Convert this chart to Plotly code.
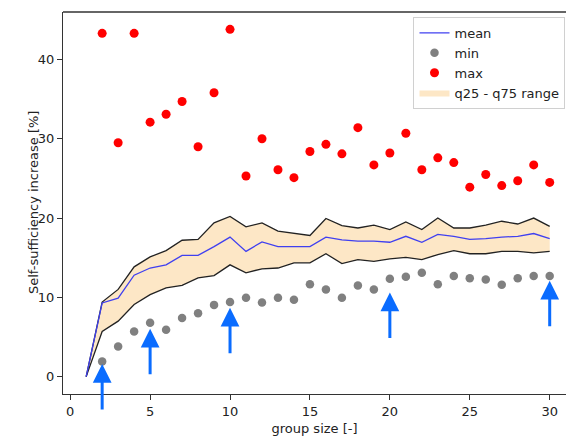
import plotly.graph_objects as go

group_size = list(range(1, 31))
mean_vals = [0, 9.3, 9.9, 12.8, 13.7, 14.1, 15.3, 15.3, 16.4, 17.6, 15.8, 17.0, 16.4, 16.4, 16.4,
             17.6, 17.25, 17.1, 17.1, 16.95, 17.7, 16.95, 17.95, 17.7, 17.3, 17.4, 17.6, 17.7, 18.05, 17.4]
q75_vals = [0, 9.4, 11.0, 13.85, 15.1, 15.9, 17.2, 17.3, 19.4, 20.2, 18.9, 19.4, 18.35, 18.1, 17.8,
            19.95, 19.05, 18.75, 19.1, 18.55, 19.5, 18.55, 20.0, 18.75, 18.75, 19.1, 19.6, 19.25, 20.0, 18.95]
q25_vals = [0, 5.7, 7.0, 9.1, 10.35, 11.2, 11.5, 12.45, 12.75, 14.1, 13.1, 13.6, 13.7, 14.35, 14.35,
            15.5, 14.25, 14.75, 14.55, 14.85, 15.05, 14.75, 15.4, 15.9, 15.5, 15.5, 15.8, 15.8, 15.6, 15.8]
minmax_x = list(range(2, 31))
min_vals = [1.9, 3.8, 5.7, 6.8, 5.9, 7.4, 8.0, 9.05, 9.4, 9.95, 9.35, 9.95, 9.7, 11.65, 11.0, 9.95,
            11.5, 11.0, 12.35, 12.6, 13.1, 11.65, 12.7, 12.4, 12.25, 11.6, 12.4, 12.7, 12.7]
max_vals = [43.3, 29.5, 43.3, 32.1, 33.1, 34.7, 29.0, 35.8, 43.8, 25.3, 30.0, 26.1, 25.1, 28.4, 29.3,
            28.1, 31.4, 26.7, 28.2, 30.7, 26.1, 27.6, 27.0, 23.9, 25.5, 24.1, 24.7, 26.7, 24.5]
arrow_x = [2, 5, 10, 20, 30]
arrow_tip = [1.6, 6.05, 8.7, 10.6, 12.1]

x_ticks = [0, 5, 10, 15, 20, 25, 30]
y_ticks = [0, 10, 20, 30, 40]

FONT = "DejaVu Sans"
fig = go.Figure()

# band fill
fig.add_trace(go.Scatter(x=group_size, y=q25_vals, mode="lines", line=dict(width=0),
                         showlegend=False, hoverinfo="skip"))
fig.add_trace(go.Scatter(x=group_size, y=q75_vals, mode="lines", line=dict(width=0),
                         fill="tonexty", fillcolor="#fde7c6", name="q25 - q75 range",
                         legendgroup="d", legendrank=4))
# band edges
fig.add_trace(go.Scatter(x=group_size, y=q25_vals, mode="lines", line=dict(color="#222222", width=1.3),
                         showlegend=False))
fig.add_trace(go.Scatter(x=group_size, y=q75_vals, mode="lines", line=dict(color="#222222", width=1.3),
                         showlegend=False))
# mean
fig.add_trace(go.Scatter(x=group_size, y=mean_vals, mode="lines", line=dict(color="#4040f0", width=1.3),
                         name="mean", legendgroup="a", legendrank=1))
# min / max
fig.add_trace(go.Scatter(x=minmax_x, y=min_vals, mode="markers",
                         marker=dict(color="#808080", size=8.5, line=dict(width=0)),
                         name="min", legendgroup="b", legendrank=2))
fig.add_trace(go.Scatter(x=minmax_x, y=max_vals, mode="markers",
                         marker=dict(color="#ff0000", size=9, line=dict(width=0)),
                         name="max", legendgroup="c", legendrank=3))

for ax_, tip in zip(arrow_x, arrow_tip):
    fig.add_annotation(x=ax_, y=tip, xref="x", yref="y", ax=0, ay=47, axref="pixel", ayref="pixel",
                       showarrow=True, arrowhead=2, arrowsize=1.25, arrowwidth=3,
                       arrowcolor="#0a6cff", standoff=0, text="")

fig.add_annotation(text="Self-sufficiency increase [%]", xref="paper", yref="paper",
                   x=(33 - 63) / 503, y=0.5, xanchor="center", yanchor="middle",
                   textangle=-90, showarrow=False, font=dict(family=FONT, size=13, color="#222222"))

fig.add_shape(type="line", xref="paper", yref="paper", x0=0, x1=1, y0=1, y1=1,
              line=dict(color="#333333", width=1.3))

fig.update_layout(
    width=566, height=439,
    margin=dict(l=63, r=0, t=12, b=45, autoexpand=False),
    paper_bgcolor="white", plot_bgcolor="white",
    font=dict(family=FONT, size=13, color="#222222"),
    legend=dict(x=0.999, xanchor="right", y=0.987, yanchor="top",
                bgcolor="white", bordercolor="#d0d0d0", borderwidth=1,
                font=dict(family=FONT, size=13, color="#222222"),
                tracegroupgap=3, traceorder="normal"),
    xaxis=dict(range=[-0.45, 31.02], tickvals=x_ticks, ticks="outside", ticklen=5,
               tickcolor="#333333", showline=True, linecolor="#333333", linewidth=1.3,
               showgrid=False, zeroline=False,
               title=dict(text="group size [-]", font=dict(size=13), standoff=6)),
    yaxis=dict(range=[-2.19, 45.99], tickvals=y_ticks, ticks="outside", ticklen=5,
               tickcolor="#333333", showline=True, linecolor="#333333", linewidth=1.3,
               showgrid=False, zeroline=False),
)

fig.write_html("out.html")
